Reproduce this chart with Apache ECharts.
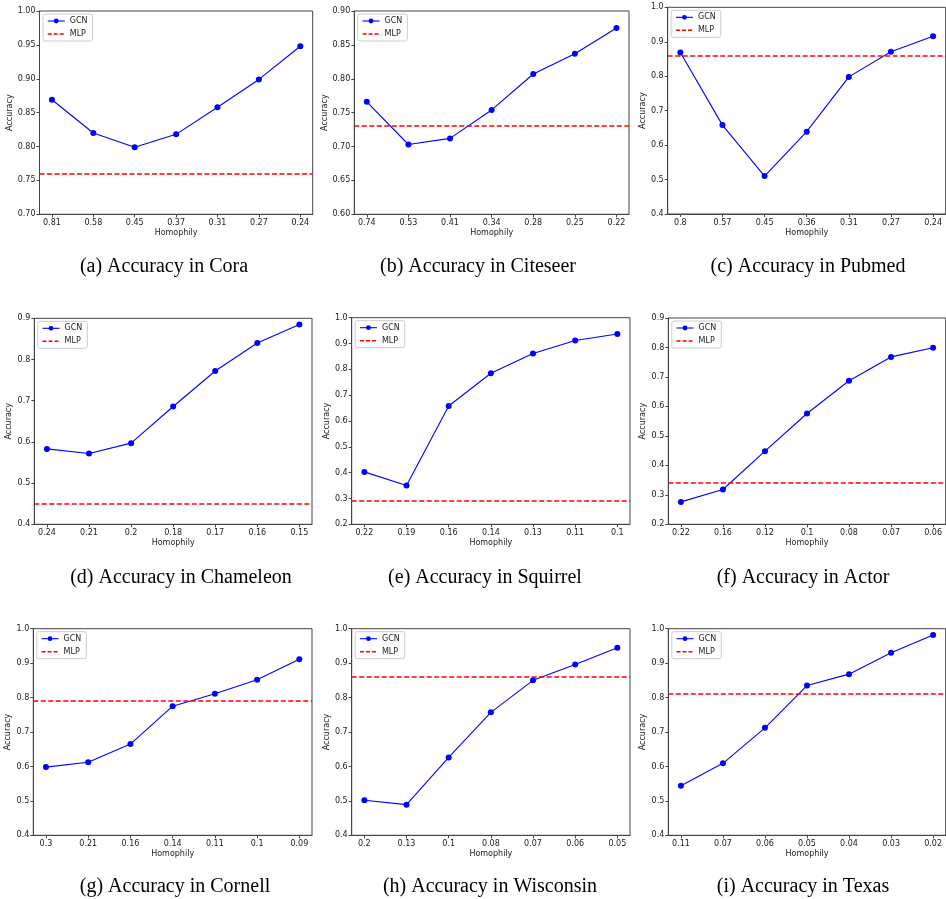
<!DOCTYPE html>
<html>
<head>
<meta charset="utf-8">
<script src="https://cdn.jsdelivr.net/npm/echarts@6/dist/echarts.min.js"></script>
<style>
  html, body { margin: 0; padding: 0; background: #fff; }
  #chart { width: 946px; height: 899px; }
</style>
</head>
<body>
<div id="chart"></div>
<script>
// homophily tick labels (x axis) for each dataset
const homoCora = ["0.81", "0.58", "0.45", "0.37", "0.31", "0.27", "0.24"];
const homoCiteseer = ["0.74", "0.53", "0.41", "0.34", "0.28", "0.25", "0.22"];
const homoPubmed = ["0.8", "0.57", "0.45", "0.36", "0.31", "0.27", "0.24"];
const homoChameleon = ["0.24", "0.21", "0.2", "0.18", "0.17", "0.16", "0.15"];
const homoSquirrel = ["0.22", "0.19", "0.16", "0.14", "0.13", "0.11", "0.1"];
const homoActor = ["0.22", "0.16", "0.12", "0.1", "0.08", "0.07", "0.06"];
const homoCornell = ["0.3", "0.21", "0.16", "0.14", "0.11", "0.1", "0.09"];
const homoWisconsin = ["0.2", "0.13", "0.1", "0.08", "0.07", "0.06", "0.05"];
const homoTexas = ["0.11", "0.07", "0.06", "0.05", "0.04", "0.03", "0.02"];

// GCN accuracy per homophily level
const gcnCora = [0.869, 0.820, 0.799, 0.818, 0.858, 0.899, 0.948];
const gcnCiteseer = [0.766, 0.703, 0.712, 0.754, 0.807, 0.837, 0.875];
const gcnPubmed = [0.869, 0.658, 0.510, 0.639, 0.798, 0.871, 0.916];
const gcnChameleon = [0.583, 0.572, 0.597, 0.686, 0.772, 0.840, 0.885];
const gcnSquirrel = [0.403, 0.350, 0.658, 0.785, 0.861, 0.912, 0.937];
const gcnActor = [0.276, 0.318, 0.448, 0.576, 0.687, 0.768, 0.799];
const gcnCornell = [0.598, 0.612, 0.665, 0.775, 0.811, 0.852, 0.911];
const gcnWisconsin = [0.502, 0.489, 0.626, 0.757, 0.850, 0.896, 0.945];
const gcnTexas = [0.544, 0.609, 0.712, 0.835, 0.868, 0.930, 0.982];

// MLP baseline accuracy
const mlpCora = 0.755;
const mlpCiteseer = 0.7325;
const mlpPubmed = 0.863;
const mlpChameleon = 0.453;
const mlpSquirrel = 0.289;
const mlpActor = 0.341;
const mlpCornell = 0.793;
const mlpWisconsin = 0.856;
const mlpTexas = 0.811;

const captions = [
  "(a) Accuracy in Cora", "(b) Accuracy in Citeseer", "(c) Accuracy in Pubmed",
  "(d) Accuracy in Chameleon", "(e) Accuracy in Squirrel", "(f) Accuracy in Actor",
  "(g) Accuracy in Cornell", "(h) Accuracy in Wisconsin", "(i) Accuracy in Texas"
];

const panels = [
  { cats: homoCora, gcn: gcnCora, mlp: mlpCora, yMin: 0.70, yMax: 1.00, step: 0.05, dec: 2 },
  { cats: homoCiteseer, gcn: gcnCiteseer, mlp: mlpCiteseer, yMin: 0.60, yMax: 0.90, step: 0.05, dec: 2 },
  { cats: homoPubmed, gcn: gcnPubmed, mlp: mlpPubmed, yMin: 0.4, yMax: 1.0, step: 0.1, dec: 1 },
  { cats: homoChameleon, gcn: gcnChameleon, mlp: mlpChameleon, yMin: 0.4, yMax: 0.9, step: 0.1, dec: 1 },
  { cats: homoSquirrel, gcn: gcnSquirrel, mlp: mlpSquirrel, yMin: 0.2, yMax: 1.0, step: 0.1, dec: 1 },
  { cats: homoActor, gcn: gcnActor, mlp: mlpActor, yMin: 0.2, yMax: 0.9, step: 0.1, dec: 1 },
  { cats: homoCornell, gcn: gcnCornell, mlp: mlpCornell, yMin: 0.4, yMax: 1.0, step: 0.1, dec: 1 },
  { cats: homoWisconsin, gcn: gcnWisconsin, mlp: mlpWisconsin, yMin: 0.4, yMax: 1.0, step: 0.1, dec: 1 },
  { cats: homoTexas, gcn: gcnTexas, mlp: mlpTexas, yMin: 0.4, yMax: 1.0, step: 0.1, dec: 1 }
];

// plot boxes [left, top, right, bottom] and caption centre [x, y]
const boxes = [
  [39.5, 11, 312.7, 214.3], [354.3, 11, 629, 214.3], [667.7, 7.3, 945.7, 214],
  [34.3, 318.3, 312, 524.3], [351.7, 317.7, 630, 524.3], [668.3, 318, 945.7, 524.3],
  [33.3, 628.7, 312, 835.3], [351.7, 628.7, 630, 835.3], [668.3, 628.7, 945.7, 835.3]
];
const captionPos = [
  [159, 265], [473, 265], [803, 265],
  [176, 576], [480, 576], [798, 576],
  [170, 885], [485, 885], [798, 885]
];

const sans = "DejaVu Sans";
const ink = "#222";
const spine = "#444";
const blue = "#0000ff";
const red = "#ff0000";
const dash = [5, 2.5];

const grid = [], xAxis = [], yAxis = [], series = [], legend = [], title = [];

panels.forEach((p, i) => {
  const [l, t, r, b] = boxes[i];
  const idx = [0, 1, 2, 3, 4, 5, 6];
  grid.push({
    left: l, top: t, width: r - l, height: b - t,
    show: true, borderColor: spine, borderWidth: 1, backgroundColor: "transparent"
  });
  xAxis.push({
    type: "value", gridIndex: i, min: -0.3, max: 6.3,
    name: "Homophily", nameLocation: "middle", nameGap: 15,
    nameTextStyle: { fontFamily: sans, fontSize: 8, color: ink },
    axisLine: { show: true, onZero: false, lineStyle: { color: spine, width: 1 } },
    axisTick: { show: true, length: 3, customValues: idx, lineStyle: { color: spine } },
    axisLabel: {
      fontFamily: sans, fontSize: 8, color: ink, margin: 5,
      customValues: idx,
      formatter: (v) => p.cats[Math.round(v)]
    },
    splitLine: { show: false }
  });
  yAxis.push({
    type: "value", gridIndex: i, min: p.yMin, max: p.yMax, interval: p.step,
    name: "Accuracy", nameLocation: "middle", nameRotate: 90,
    nameGap: p.dec === 2 ? 25 : 21,
    nameTextStyle: { fontFamily: sans, fontSize: 8, color: ink },
    axisLine: { show: true, onZero: false, lineStyle: { color: spine, width: 1 } },
    axisTick: { show: true, length: 3, lineStyle: { color: spine } },
    axisLabel: {
      fontFamily: sans, fontSize: 8, color: ink, margin: 4,
      formatter: (v) => v.toFixed(p.dec)
    },
    splitLine: { show: false }
  });
  series.push({
    name: "GCN", type: "line", xAxisIndex: i, yAxisIndex: i,
    data: p.gcn.map((v, k) => [k, v]),
    symbol: "circle", symbolSize: 6,
    color: blue,
    itemStyle: { color: blue },
    lineStyle: { color: blue, width: 1.1 },
    z: 3
  });
  series.push({
    name: "MLP", type: "line", xAxisIndex: i, yAxisIndex: i,
    data: [], symbol: "none",
    color: red,
    itemStyle: { color: red },
    lineStyle: { color: red, width: 1.5, type: dash },
    markLine: {
      silent: true, symbol: "none",
      label: { show: false },
      itemStyle: { color: red },
      lineStyle: { color: red, width: 1.5, type: dash, opacity: 1 },
      emphasis: { disabled: true },
      data: [{ yAxis: p.mlp, lineStyle: { color: red, width: 1.5, type: dash } }]
    },
    z: 2
  });
  legend.push({
    orient: "vertical", left: l + 3.5, top: t + 3,
    data: [
      { name: "GCN", lineStyle: { width: 1.1 } },
      { name: "MLP", itemStyle: { opacity: 0 }, lineStyle: { width: 1.5, type: [4, 2] } }
    ],
    itemWidth: 17, itemHeight: 6, itemGap: 5,
    padding: [3, 5, 3, 4],
    backgroundColor: "#fff", borderColor: "#ccc", borderWidth: 1, borderRadius: 2,
    textStyle: { fontFamily: sans, fontSize: 8, color: ink },
    selectedMode: false
  });
  title.push({
    text: captions[i], left: captionPos[i][0], top: captionPos[i][1] - 13,
    textAlign: "center",
    textStyle: { fontFamily: "Liberation Serif", fontSize: 20, fontWeight: "normal", color: "#000" }
  });
});

const chart = echarts.init(document.getElementById("chart"));
chart.setOption({
  animation: false,
  backgroundColor: "#fff",
  title, legend, grid, xAxis, yAxis, series
});
</script>
</body>
</html>
